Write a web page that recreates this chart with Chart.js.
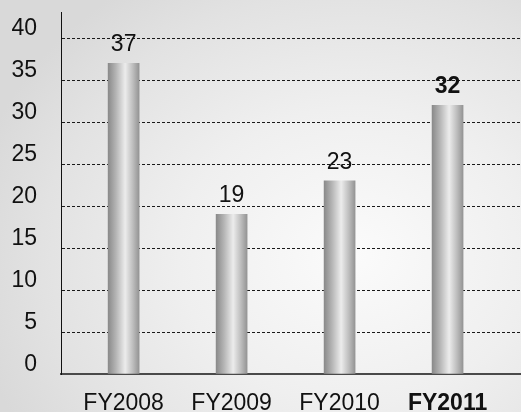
<!DOCTYPE html>
<html lang="en">

<head>
  <meta charset="UTF-8">
  <meta name="viewport" content="width=device-width, initial-scale=1.0">
  <script src="https://cdn.jsdelivr.net/npm/chart.js@4.4.0/dist/chart.umd.min.js"></script>
  <title>FY2008 - FY2011</title>
  <style>
    html, body {
      margin: 0;
      padding: 0;
    }
    body {
      width: 521px;
      height: 412px;
      overflow: hidden;
      background: radial-gradient(ellipse 75% 80% at 68% 62%, #fbfbfb 0%, #efefef 45%, #e2e2e2 80%, #d9d9d9 100%);
    }
    canvas {
      display: block;
    }
  </style>
</head>

<body>
  <canvas id="grafico" width="521" height="412"></canvas>

  <script>
    var years = ["FY2008", "FY2009", "FY2010", "FY2011"];
    var values = [37, 19, 23, 32];
    var yTicks = [0, 5, 10, 15, 20, 25, 30, 35, 40];
    var boldIndex = 3;

    var fonte = "'Liberation Sans', Arial, Helvetica, sans-serif";

    // cylinder look: dark edges, highlight a bit right of center
    var cilindro = {
      id: 'cilindro',
      beforeDatasetsDraw(chart) {
        var c = chart.ctx;
        chart.getDatasetMeta(0).data.forEach(function (bar) {
          var x0 = bar.x - bar.width / 2;
          var g = c.createLinearGradient(x0, 0, x0 + bar.width, 0);
          g.addColorStop(0, '#8a8a8a');
          g.addColorStop(0.25, '#b4b4b4');
          g.addColorStop(0.55, '#ececec');
          g.addColorStop(0.8, '#bdbdbd');
          g.addColorStop(1, '#949494');
          bar.options.backgroundColor = g;
        });
      }
    };

    // value above each bar
    var rotulos = {
      id: 'rotulos',
      afterDatasetsDraw(chart) {
        var c = chart.ctx;
        c.save();
        c.fillStyle = '#111';
        c.textAlign = 'center';
        c.textBaseline = 'alphabetic';
        chart.getDatasetMeta(0).data.forEach(function (bar, i) {
          c.font = (i === boldIndex ? 'bold ' : '') + '23px ' + fonte;
          c.fillText(String(values[i]), bar.x, bar.y - 12);
        });
        c.restore();
      }
    };

    var ctx = document.getElementById('grafico');

    var chart = new Chart(ctx, {
      type: 'bar',
      data: {
        datasets: [{
          data: years.map(function (y, i) { return { x: i, y: values[i] }; }),
          barThickness: 31,
          borderWidth: 0,
          // scriptable so each bar gets its own options object
          backgroundColor: function () { return '#bbbbbb'; }
        }]
      },
      options: {
        responsive: false,
        animation: false,
        layout: { padding: { top: 12, left: 0, right: 0, bottom: 0 } },
        plugins: {
          legend: { display: false },
          tooltip: { enabled: false }
        },
        scales: {
          x: {
            type: 'linear',
            offset: false,
            min: -0.58,
            max: 3.68,
            afterFit: function (s) {
              s.height = 38;
              s.paddingLeft = 0;
              s.paddingRight = 0;
            },
            grid: { display: false, drawTicks: false },
            border: { display: true, color: '#4a4a4a', width: 2 },
            ticks: {
              stepSize: 1,
              includeBounds: false,
              padding: 16,
              color: '#111',
              maxRotation: 0,
              autoSkip: false,
              font: function (c) {
                return {
                  family: fonte,
                  size: 23,
                  weight: (c.tick && c.tick.value === boldIndex) ? 'bold' : 'normal'
                };
              },
              callback: function (v) {
                return years[v] !== undefined ? years[v] : '';
              }
            }
          },
          y: {
            min: 0,
            max: 43.1,
            afterFit: function (s) {
              s.width = 61;
              s.paddingTop = 0;
              s.paddingBottom = 0;
            },
            afterBuildTicks: function (s) {
              s.ticks = yTicks.map(function (v) { return { value: v }; });
            },
            grid: {
              drawTicks: false,
              color: function (c) {
                return c.tick && c.tick.value === 0 ? 'rgba(0,0,0,0)' : '#1a1a1a';
              },
              lineWidth: 1
            },
            border: { display: true, color: '#111', width: 1, dash: [3, 2] },
            ticks: {
              padding: 24,
              labelOffset: -9,
              color: '#111',
              font: { family: fonte, size: 23 }
            }
          }
        }
      },
      plugins: [cilindro, rotulos]
    });
  </script>
</body>

</html>
